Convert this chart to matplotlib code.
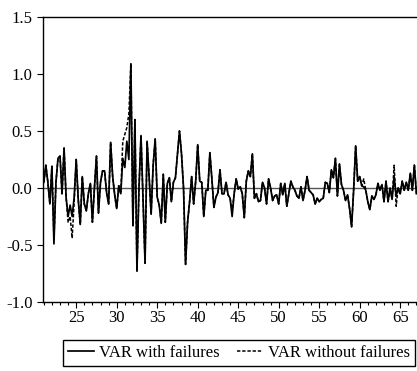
import numpy as np
import matplotlib
matplotlib.use("Agg")
import matplotlib.pyplot as plt
from matplotlib.ticker import MultipleLocator

# quarterly observations, 21.00 .. 67.00
t_start, t_step = 21.0, 0.25

var_with = [
    0.05, 0.20, 0.05, -0.14, 0.19, -0.49, 0.05, 0.26, 0.28, -0.05, 0.35, -0.08,   # 21.00-23.75
    -0.25, -0.15, -0.25, -0.08, 0.25, -0.10, -0.32, 0.10, -0.14, -0.20, -0.05, 0.04,  # 24.00-26.75
    -0.30, 0.00, 0.28, -0.22, 0.05, 0.15, 0.15, -0.04, -0.14, 0.40, 0.10, -0.06,   # 27.00-29.75
    -0.18, 0.02, -0.05, 0.26, 0.18, 0.41, 0.25, 1.09, -0.33, 0.60, -0.73, 0.00,    # 30.00-32.75
    0.46, -0.10, -0.66, 0.41, 0.10, -0.23, 0.20, 0.43, -0.08, -0.15, -0.31, 0.12,  # 33.00-35.75
    -0.30, 0.04, 0.09, -0.12, 0.05, 0.09, 0.30, 0.50, 0.30, 0.00, -0.67, -0.30,    # 36.00-38.75
    -0.12, 0.10, -0.14, 0.06, 0.38, 0.06, 0.05, -0.25, -0.02, -0.02, 0.31, 0.08,   # 39.00-41.75
    -0.17, -0.08, -0.04, 0.16, -0.05, -0.05, 0.05, -0.06, -0.09, -0.25, -0.05, 0.08,  # 42.00-44.75
    -0.01, 0.01, -0.05, -0.26, 0.06, 0.15, 0.10, 0.30, -0.09, -0.05, -0.12, -0.11,  # 45.00-47.75
    0.05, 0.00, -0.14, 0.08, 0.00, -0.11, -0.07, -0.06, -0.14, 0.04, -0.06, 0.04,  # 48.00-50.75
    -0.16, -0.05, 0.06, 0.01, -0.02, -0.07, -0.09, 0.01, -0.11, -0.02, 0.10, -0.02,  # 51.00-53.75
    -0.04, -0.06, -0.14, -0.09, -0.12, -0.10, -0.09, 0.05, 0.04, -0.04, 0.16, 0.09,  # 54.00-56.75
    0.26, -0.07, 0.21, 0.03, -0.02, -0.11, -0.06, -0.18, -0.34, -0.02, 0.37, 0.06,  # 57.00-59.75
    0.10, 0.02, 0.01, -0.02, -0.12, -0.19, -0.07, -0.10, -0.06, 0.04, -0.02, 0.03,  # 60.00-62.75
    -0.12, 0.06, -0.12, 0.00, -0.10, 0.10, -0.07, 0.00, -0.05, 0.06, -0.02, 0.05,  # 63.00-65.75
    -0.02, 0.13, -0.02, 0.20, -0.05,                                                # 66.00-67.00
]

var_without = [
    0.05, 0.20, 0.05, -0.14, 0.19, -0.45, 0.05, 0.26, 0.28, -0.05, 0.35, -0.08,
    -0.30, -0.25, -0.44, -0.12, 0.25, -0.10, -0.32, 0.10, -0.14, -0.20, -0.05, 0.04,
    -0.30, 0.00, 0.28, -0.22, 0.05, 0.15, 0.15, -0.04, -0.14, 0.40, 0.10, -0.06,
    -0.18, 0.02, -0.05, 0.41, 0.47, 0.53, 0.65, 1.09, -0.33, 0.60, -0.73, 0.00,
    0.46, -0.10, -0.66, 0.41, 0.10, -0.23, 0.20, 0.43, -0.08, -0.15, -0.31, 0.12,
    -0.30, 0.04, 0.09, -0.12, 0.05, 0.09, 0.30, 0.50, 0.30, 0.00, -0.67, -0.30,
    -0.12, 0.10, -0.14, 0.06, 0.38, 0.06, 0.05, -0.25, -0.02, -0.02, 0.31, 0.08,
    -0.17, -0.08, -0.04, 0.16, -0.05, -0.05, 0.05, -0.06, -0.09, -0.20, -0.05, 0.08,
    -0.01, 0.01, -0.05, -0.26, 0.06, 0.15, 0.10, 0.30, -0.09, -0.05, -0.12, -0.11,
    0.05, 0.00, -0.14, 0.08, 0.00, -0.11, -0.07, -0.06, -0.14, 0.04, -0.06, 0.04,
    -0.16, -0.05, 0.06, 0.01, -0.02, -0.07, -0.09, 0.01, -0.11, -0.02, 0.10, -0.02,
    -0.04, -0.06, -0.14, -0.09, -0.12, -0.10, -0.09, 0.05, 0.04, -0.04, 0.16, 0.09,
    0.26, -0.07, 0.21, 0.03, -0.02, -0.11, -0.06, -0.18, -0.34, -0.02, 0.37, 0.06,
    0.10, 0.02, 0.08, -0.02, -0.12, -0.19, -0.07, -0.10, -0.06, 0.04, -0.02, 0.03,
    -0.12, 0.06, -0.12, 0.00, -0.10, 0.20, -0.16, 0.00, -0.05, 0.06, -0.02, 0.05,
    -0.02, 0.13, -0.02, 0.20, -0.05,
]

legend_labels = ["VAR with failures", "VAR without failures"]

t = t_start + t_step * np.arange(len(var_with))

plt.rcParams['font.family'] = ['Liberation Serif', 'DejaVu Serif']

fig = plt.figure(figsize=(4.17, 3.71), dpi=100)
ax = fig.add_axes([43 / 417, 69 / 371, 381.5 / 417, 285 / 371])

ax.axhline(0, color='#555555', lw=1.0, zorder=1)
ax.plot(t, var_with, color='black', lw=1.25, zorder=3, label=legend_labels[0])
ax.plot(t, var_without, color='black', lw=1.1, ls=(0, (2.2, 1.2)), zorder=2,
        label=legend_labels[1])

ax.set_xlim(20.9, 68.0)
ax.set_ylim(-1.0, 1.5)
ax.xaxis.set_major_locator(MultipleLocator(5))
ax.xaxis.set_minor_locator(MultipleLocator(1))
ax.yaxis.set_major_locator(MultipleLocator(0.5))
ax.yaxis.set_major_formatter(lambda v, p: f"{v:.1f}")

ax.tick_params(axis='both', which='major', direction='out', length=4, width=0.8,
               labelsize=12, colors='black')
ax.tick_params(axis='x', which='minor', direction='out', length=2.5, width=0.8)
ax.tick_params(axis='x', pad=2)

for s in ax.spines.values():
    s.set_linewidth(1.0)
ax.spines['right'].set_visible(False)

fig.legend(loc='center', bbox_to_anchor=(0.573, 0.049), ncol=2, fontsize=12,
           frameon=True, fancybox=False, edgecolor='black', framealpha=1,
           handlelength=1.6, handletextpad=0.3, columnspacing=1.0,
           borderpad=0.3, borderaxespad=0)

fig.savefig("out.png", dpi=100)
